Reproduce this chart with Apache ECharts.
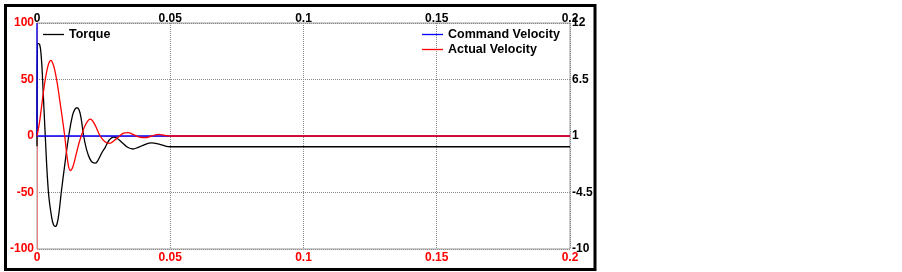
<!DOCTYPE html>
<html>
<head>
<meta charset="utf-8">
<script src="https://cdn.jsdelivr.net/npm/echarts@6/dist/echarts.min.js"></script>
<style>
  html, body { margin: 0; padding: 0; background: #fff; }
  #chart { width: 902px; height: 272px; }
</style>
</head>
<body>
<div id="chart"></div>
<script>
// time axis (s)
const timeTicks = [0, 0.05, 0.1, 0.15, 0.2]
const torqueTicks = [-100, -50, 0, 50, 100]
const velocityTicks = [-10, -4.5, 1, 6.5, 12]

// [time, torque]
const torque = [
  [0, -9], [0.0002, 82], [0.001, 81], [0.0016, 70], [0.0021, 50],
  [0.0031, 0], [0.0043, -50], [0.0055, -72], [0.0062, -78.5], [0.0069, -80],
  [0.0076, -77], [0.0083, -67], [0.0091, -50], [0.0105, -24], [0.0119, 0],
  [0.0133, 18], [0.0142, 23.5], [0.015, 25], [0.0158, 23], [0.0166, 15],
  [0.0175, 0], [0.0186, -12], [0.0198, -20], [0.0209, -23.5], [0.0219, -24],
  [0.023, -21], [0.0243, -15], [0.0256, -10], [0.027, -4], [0.0286, -1],
  [0.03, -2], [0.032, -6], [0.034, -10], [0.036, -11.5], [0.038, -10],
  [0.04, -8], [0.043, -6], [0.0455, -7], [0.048, -8.8], [0.05, -9.5],
  [0.2, -9.5]
]

// [time, velocity]
const commandVelocity = [[0, 12], [0, 1], [0.2, 1]]
const actualVelocity = [
  [0, 1], [0.0008, 2.1], [0.0015, 3.42], [0.0023, 5.07], [0.0031, 6.5],
  [0.004, 7.71], [0.0047, 8.26], [0.0052, 8.37], [0.0058, 8.15], [0.0066, 7.49],
  [0.0075, 6.28], [0.009, 3.64], [0.0104, 1], [0.0115, -1.42], [0.0125, -2.36],
  [0.0135, -1.97], [0.0147, -0.76], [0.0158, 0.34], [0.0169, 1.22], [0.0182, 2.1],
  [0.02, 2.65], [0.0215, 2.21], [0.0237, 1], [0.0255, 0.45], [0.0272, 0.29],
  [0.029, 0.56], [0.031, 1], [0.0325, 1.27], [0.0342, 1.33], [0.036, 1.16],
  [0.0385, 0.89], [0.0406, 0.84], [0.043, 1], [0.0455, 1.16], [0.048, 1.05],
  [0.05, 1], [0.2, 1]
]

const bold = {fontFamily: 'Liberation Sans', fontWeight: 'bold', fontSize: 12}
const grid = {type: 'dotted', color: '#8a8a8a', width: 1}
const legendText = {color: '#000', fontFamily: 'Liberation Sans', fontWeight: 'bold', fontSize: 12.5}

let chart = echarts.init(document.getElementById('chart'))
chart.setOption({
  animation: false,
  backgroundColor: '#fff',
  graphic: [{
    type: 'rect',
    shape: {x: 5.5, y: 5.5, width: 589.5, height: 264},
    style: {fill: 'none', stroke: '#000', lineWidth: 3},
    silent: true
  }],
  grid: {left: 37, right: 332, top: 23, bottom: 23, show: true, borderColor: '#999', borderWidth: 1},
  legend: [
    {
      data: ['Torque'],
      left: 38, top: 23,
      icon: 'rect', itemWidth: 21, itemHeight: 1.3, itemGap: 2,
      textStyle: legendText
    },
    {
      data: ['Command Velocity', 'Actual Velocity'],
      orient: 'vertical',
      left: 417, top: 23,
      icon: 'rect', itemWidth: 21, itemHeight: 1.3, itemGap: 2,
      textStyle: legendText
    }
  ],
  xAxis: [
    {
      type: 'value', position: 'bottom',
      min: timeTicks[0], max: timeTicks[timeTicks.length - 1], interval: 0.05,
      axisLine: {show: true, lineStyle: {color: '#f08080'}},
      axisTick: {show: false},
      axisLabel: Object.assign({color: '#ff0000', margin: 3}, bold),
      splitLine: {show: true, lineStyle: grid}
    },
    {
      type: 'value', position: 'top',
      min: timeTicks[0], max: timeTicks[timeTicks.length - 1], interval: 0.05,
      axisLine: {show: false},
      axisTick: {show: false},
      axisLabel: Object.assign({color: '#000', margin: -2}, bold),
      splitLine: {show: false}
    }
  ],
  yAxis: [
    {
      type: 'value', position: 'left',
      min: torqueTicks[0], max: torqueTicks[torqueTicks.length - 1], interval: 50,
      axisLine: {show: true, lineStyle: {color: '#f08080'}},
      axisTick: {show: false},
      axisLabel: Object.assign({color: '#ff0000', margin: 3}, bold),
      splitLine: {show: true, lineStyle: grid}
    },
    {
      type: 'value', position: 'right',
      min: velocityTicks[0], max: velocityTicks[velocityTicks.length - 1],
      alignTicks: true,
      axisLine: {show: false},
      axisTick: {show: false},
      axisLabel: Object.assign({color: '#000', margin: 2}, bold),
      splitLine: {show: false}
    }
  ],
  series: [
    {
      name: 'Torque', type: 'line', data: torque,
      xAxisIndex: 0, yAxisIndex: 0,
      symbol: 'none', smooth: 0.4,
      lineStyle: {color: '#000', width: 1.3}, itemStyle: {color: '#000'}
    },
    {
      name: 'Command Velocity', type: 'line', data: commandVelocity,
      xAxisIndex: 0, yAxisIndex: 1,
      symbol: 'none',
      lineStyle: {color: '#0000ff', width: 1.3}, itemStyle: {color: '#0000ff'}
    },
    {
      name: 'Actual Velocity', type: 'line', data: actualVelocity,
      xAxisIndex: 0, yAxisIndex: 1,
      symbol: 'none', smooth: 0.4,
      lineStyle: {color: '#ff0000', width: 1.3}, itemStyle: {color: '#ff0000'}
    }
  ]
})
</script>
</body>
</html>
